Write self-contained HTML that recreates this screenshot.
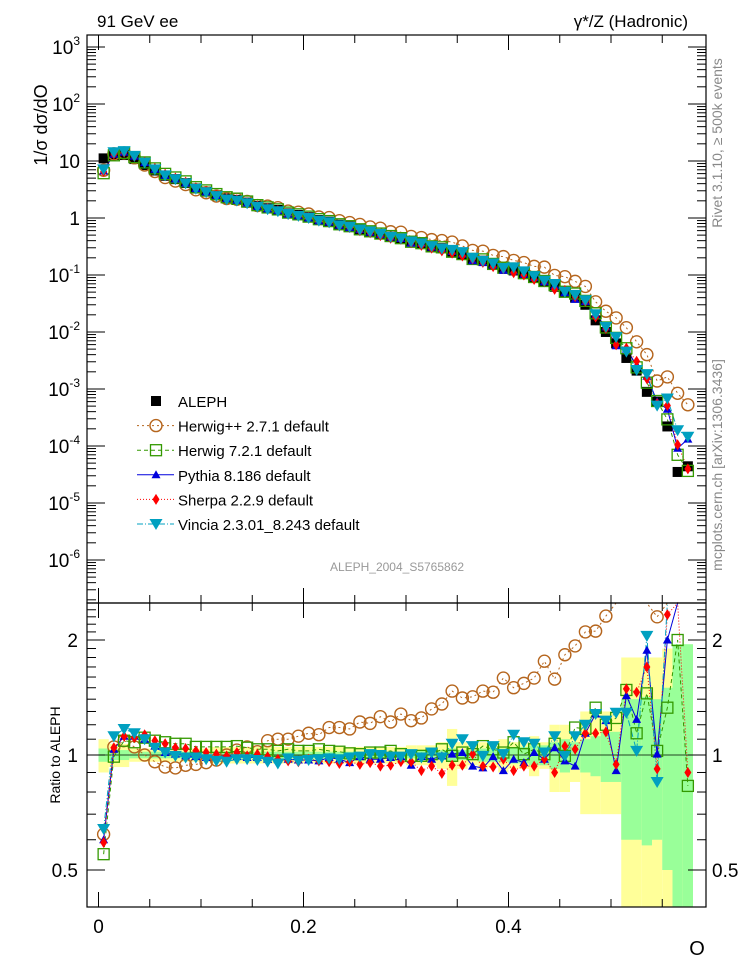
<!DOCTYPE html>
<html><head><meta charset="utf-8"><style>
html,body{margin:0;padding:0;background:#fff;}
svg{display:block;font-family:"Liberation Sans",Arial,sans-serif;}
</style></head><body>
<svg id="chart" width="746" height="972" viewBox="0 0 746 972" xmlns="http://www.w3.org/2000/svg">
<g id="bands"></g>
<g id="lines"></g>
<g id="marks"></g>
<g id="axes"></g>
<text x="97" y="27" font-size="17">91 GeV ee</text>
<text x="688" y="27" font-size="17" text-anchor="end">γ*/Z (Hadronic)</text>
<text transform="translate(47,125) rotate(-90)" font-size="18" text-anchor="middle">1/σ  dσ/dO</text>
<text transform="translate(60,755) rotate(-90)" font-size="14" text-anchor="middle">Ratio to ALEPH</text>
<text x="697" y="955" font-size="20" text-anchor="middle">O</text>
<text transform="translate(722,143) rotate(-90)" font-size="14" fill="#888" text-anchor="middle">Rivet 3.1.10, ≥ 500k events</text>
<text transform="translate(722,465) rotate(-90)" font-size="14" fill="#888" text-anchor="middle">mcplots.cern.ch [arXiv:1306.3436]</text>
<text x="397" y="571" font-size="12" fill="#999" text-anchor="middle">ALEPH_2004_S5765862</text>
<g id="legend"></g>
</svg>
<script>
const xc=[0.005,0.015,0.025,0.035,0.045,0.055,0.065,0.075,0.085,0.095,0.105,0.115,0.125,0.135,0.145,0.155,0.165,0.175,0.185,0.195,0.205,0.215,0.225,0.235,0.245,0.255,0.265,0.275,0.285,0.295,0.305,0.315,0.325,0.335,0.345,0.355,0.365,0.375,0.385,0.395,0.405,0.415,0.425,0.435,0.445,0.455,0.465,0.475,0.485,0.495,0.505,0.515,0.525,0.535,0.545,0.555,0.565,0.575];
const aleph=[11.1,12.7,12.7,10.8,8.5,6.8,5.5,4.8,4.1,3.3,2.9,2.5,2.2,2.07,1.86,1.62,1.48,1.38,1.2,1.13,1.03,0.92,0.86,0.76,0.71,0.63,0.575,0.525,0.47,0.44,0.385,0.363,0.316,0.295,0.257,0.229,0.19,0.178,0.151,0.132,0.12,0.107,0.089,0.078,0.062,0.051,0.04,0.03,0.016,0.01,0.0063,0.0035,0.0021,0.00089,0.0006,0.00022,0.000035,0.000044];
const ratioHerwigpp=[0.62,1.05,1.09,1.05,1.0,0.96,0.93,0.925,0.94,0.945,0.955,0.97,1.0,1.03,1.05,1.02,1.09,1.1,1.1,1.12,1.14,1.13,1.18,1.18,1.17,1.22,1.21,1.26,1.22,1.28,1.23,1.25,1.32,1.36,1.47,1.41,1.42,1.47,1.46,1.59,1.5,1.54,1.59,1.76,1.58,1.83,1.93,2.1,2.11,2.31,2.8,3.4,3.2,4.5,2.3,7.4,24,12];
const ratioHerwig7=[0.55,0.99,1.09,1.08,1.11,1.09,1.08,1.07,1.07,1.05,1.05,1.05,1.05,1.055,1.045,1.035,1.035,1.025,1.035,1.025,1.025,1.035,1.025,1.02,1.01,1.005,1.015,1.015,1.025,1.005,0.995,0.995,1.005,1.035,0.995,1.015,1.005,1.055,1.035,1.015,1.08,1.005,1.035,1.005,1.07,0.995,1.18,1.17,1.33,1.2,1.25,1.48,1.14,1.45,1.025,1.33,2.0,0.83];
const ratioPythia=[0.6,1.035,1.12,1.12,1.1,1.055,1.015,1.005,0.995,0.99,0.985,0.99,0.995,0.99,0.985,0.985,0.975,0.975,0.975,0.97,0.97,0.965,0.985,0.975,0.955,0.99,0.975,0.975,0.985,0.99,0.94,0.99,0.975,0.995,1.005,1.015,0.935,0.925,0.99,0.91,0.975,0.955,1.015,0.975,1.045,0.965,0.935,1.14,1.28,1.23,0.91,1.43,1.24,1.88,1.005,2.0,2.6,3.0];
const ratioSherpa=[0.59,1.045,1.12,1.11,1.13,1.09,1.07,1.045,1.04,1.025,1.015,1.005,0.995,1.015,0.995,1.005,0.99,0.975,0.965,0.96,0.975,0.965,0.96,0.95,0.96,0.945,0.955,0.935,0.94,0.96,0.96,0.91,0.935,0.895,0.94,0.94,1.005,0.935,0.93,0.975,0.91,0.935,0.935,0.975,0.9,1.055,1.035,1.14,1.14,1.15,0.945,1.49,1.46,1.7,0.92,2.33,3.0,0.9];
const ratioVincia=[0.64,1.12,1.17,1.14,1.1,1.045,1.015,0.995,0.985,0.985,0.975,0.965,0.96,0.975,0.975,0.97,0.96,0.95,0.98,0.965,0.97,0.975,0.98,0.975,0.985,0.99,1.005,1.0,0.99,0.99,1.005,0.985,1.015,0.985,1.07,1.1,1.055,0.995,1.055,1.005,1.13,1.08,1.07,1.015,1.12,0.995,1.12,1.2,1.28,1.23,1.29,1.29,1.025,2.05,0.85,3.1,5.4,3.3];
const totErr=[0.1,0.07,0.07,0.04,0.04,0.04,0.04,0.04,0.04,0.04,0.04,0.05,0.05,0.05,0.05,0.05,0.05,0.05,0.05,0.05,0.05,0.05,0.05,0.05,0.05,0.05,0.05,0.05,0.05,0.05,0.06,0.06,0.06,0.08,0.17,0.08,0.06,0.08,0.07,0.1,0.08,0.08,0.12,0.08,0.2,0.2,0.15,0.3,0.3,0.3,0.3,0.8,0.8,0.8,0.8,0.9,0.9,0.9];
const statErr=[0.04,0.03,0.03,0.02,0.02,0.02,0.02,0.02,0.02,0.02,0.02,0.02,0.02,0.02,0.02,0.02,0.02,0.02,0.02,0.02,0.02,0.02,0.02,0.02,0.02,0.02,0.02,0.02,0.02,0.02,0.02,0.025,0.025,0.03,0.04,0.03,0.03,0.04,0.04,0.04,0.05,0.05,0.06,0.06,0.08,0.1,0.08,0.1,0.12,0.15,0.15,0.4,0.4,0.42,0.4,0.5,0.95,0.95];
const yTickLabels=["10","1"];
const ratioTicks=[2,1,0.5];
const xTicks=[0,0.2,0.4];

const NS="http://www.w3.org/2000/svg";
const X0=87,X1=706,T0=35,T1=603,R1=907;
const xS=o=>98.5+o*1025;
const yT=v=>T0+(3.21-Math.log10(v))*57;
const yR=r=>755-382*Math.log10(r);
function mk(tag,attrs,parent){const e=document.createElementNS(NS,tag);for(const k in attrs)e.setAttribute(k,attrs[k]);parent.appendChild(e);return e;}
const bands=document.getElementById('bands'),lines=document.getElementById('lines'),marks=document.getElementById('marks'),axes=document.getElementById('axes'),legend=document.getElementById('legend');
const clampR=y=>Math.max(T1,Math.min(R1,y));

for(let i=0;i<xc.length;i++){
  const xl=Math.max(X0,xS(xc[i]-0.005)),xr=xS(xc[i]+0.005);
  const hi=clampR(yR(1+totErr[i])),lo=clampR(yR(Math.max(1-totErr[i],0.05)));
  const r=mk('rect',{x:xl,y:hi,width:xr-xl,height:lo-hi,fill:'#ffff99'},bands);
  
  
}
for(let i=0;i<xc.length;i++){
  const xl=Math.max(X0,xS(xc[i]-0.005)),xr=xS(xc[i]+0.005);
  const hi=clampR(yR(1+statErr[i])),lo=clampR(yR(Math.max(1-statErr[i],0.05)));
  const r=mk('rect',{x:xl,y:hi,width:xr-xl,height:lo-hi,fill:'#99ff99'},bands);
  
  
}
const one=mk('line',{x1:X0,x2:X1,y1:yR(1),y2:yR(1),stroke:'#224422','stroke-width':1},bands);



const series=[
 {name:'herwigpp',ratio:ratioHerwigpp,color:'#b5651d',dash:'2,3',mark:'circle'},
 {name:'herwig7',ratio:ratioHerwig7,color:'#339900',dash:'4,3',mark:'square'},
 {name:'pythia',ratio:ratioPythia,color:'#0000dd',dash:'',mark:'tri'},
 {name:'sherpa',ratio:ratioSherpa,color:'#ff0000',dash:'1,2',mark:'diamond'},
 {name:'vincia',ratio:ratioVincia,color:'#00a0c0',dash:'6,2,1,2',mark:'tridown'}
];
function marker(type,x,y,color,parent){
  let e;
  if(type==='circle')e=mk('circle',{cx:x,cy:y,r:6,fill:'none',stroke:color,'stroke-width':1.4},parent);
  else if(type==='square')e=mk('rect',{x:x-5.5,y:y-5.5,width:11,height:11,fill:'none',stroke:color,'stroke-width':1.3},parent);
  else if(type==='tri')e=mk('polygon',{points:`${x-4.5},${y+3.5} ${x+4.5},${y+3.5} ${x},${y-4.5}`,fill:color},parent);
  else if(type==='diamond')e=mk('polygon',{points:`${x},${y-5.5} ${x+3.5},${y} ${x},${y+5.5} ${x-3.5},${y}`,fill:color},parent);
  else if(type==='tridown')e=mk('polygon',{points:`${x-6.5},${y-5} ${x+6.5},${y-5} ${x},${y+6}`,fill:color},parent);
  else e=mk('rect',{x:x-5,y:y-5,width:10,height:10,fill:color},parent);
  return e;
}
for(let i=0;i<xc.length;i++){
  const y=yT(aleph[i]);
  if(y>T1)continue;
  const m=marker('sq',xS(xc[i]),y,'#000',marks);
  
  
}
series.forEach(s=>{
  let pt='',pr='';
  const topPts=[],ratPts=[];
  for(let i=0;i<xc.length;i++){
    const x=xS(xc[i]);
    const v=aleph[i]*s.ratio[i];
    const yt=yT(v);
    pt+=`${x},${Math.min(yt,T1)} `;
    if(yt<=T1)topPts.push([x,yt]);
    const yr=yR(s.ratio[i]);
    pr+=`${x},${clampR(yr)} `;
    if(yr>=T1&&yr<=R1)ratPts.push([x,yr]);
  }
  const l1=mk('polyline',{points:pt,fill:'none',stroke:s.color,'stroke-width':1,'stroke-dasharray':s.dash},lines);
  
  
  const l2=mk('polyline',{points:pr,fill:'none',stroke:s.color,'stroke-width':1,'stroke-dasharray':s.dash},lines);
  
  
  topPts.forEach(p=>{const m=marker(s.mark,p[0],p[1],s.color,marks);
    
    });
  ratPts.forEach(p=>{const m=marker(s.mark,p[0],p[1],s.color,marks);
    
    });
});

[[T0,T1],[T1,R1]].forEach((f,k)=>{
  const r=mk('rect',{x:X0,y:f[0],width:X1-X0,height:f[1]-f[0],fill:'none',stroke:'#000','stroke-width':1.2},axes);
  
  
});
for(let k=0;k<=11;k++){
  const o=k*0.05,x=xS(o),len=(k%4===0)?15:8;
  [[T0,1],[T1,-1],[T1,1],[R1,-1]].forEach(p=>{
    const t=mk('line',{x1:x,x2:x,y1:p[0],y2:p[0]+p[1]*len,stroke:'#000','stroke-width':1},axes);
    
    
  });
}
xTicks.forEach(v=>{
  const t=mk('text',{x:xS(v),y:933,'font-size':19,'text-anchor':'middle'},axes);
  t.textContent=String(v);
  
  
});
for(let d=-7;d<=3;d++){
  for(let m=1;m<=9;m++){
    const v=m*Math.pow(10,d),y=yT(v);
    if(y<T0||y>T1)continue;
    const len=m===1?18:9;
    [[X0,1],[X1,-1]].forEach(p=>{
      const t=mk('line',{x1:p[0],x2:p[0]+p[1]*len,y1:y,y2:y,stroke:'#000','stroke-width':1},axes);
      
      
    });
  }
}
const decs=[3,2,-1,-2,-3,-4,-5,-6];
decs.forEach(d=>{
  const y=yT(Math.pow(10,d));
  const t=mk('text',{x:80,y:y+7,'font-size':19,'text-anchor':'end'},axes);
  t.textContent='10';
  const s=mk('tspan',{dy:-9,'font-size':12},t);
  s.textContent=String(d);
  
  
});
const plainY=[[10,yTickLabels[0]],[1,yTickLabels[1]]];
plainY.forEach(p=>{
  const t=mk('text',{x:80,y:yT(p[0])+7,'font-size':19,'text-anchor':'end'},axes);
  t.textContent=p[1];
  
  
});
for(let v=0.4;v<=2.5001;v+=0.1){
  const y=yR(v);if(y<T1||y>R1)continue;
  const major=Math.abs(v-0.5)<1e-6||Math.abs(v-1)<1e-6||Math.abs(v-2)<1e-6;
  const len=major?18:9;
  [[X0,1],[X1,-1]].forEach(p=>{
    const t=mk('line',{x1:p[0],x2:p[0]+p[1]*len,y1:y,y2:y,stroke:'#000','stroke-width':1},axes);
    
    
  });
}
ratioTicks.forEach(v=>{
  [[78,'end'],[712,'start']].forEach(p=>{
    const t=mk('text',{x:p[0],y:yR(v)+7,'font-size':19,'text-anchor':p[1]},axes);
    t.textContent=String(v);
    
    
  });
});
const legItems=[['ALEPH','sq','#000',''],['Herwig++ 2.7.1 default','circle','#b5651d','2,3'],['Herwig 7.2.1 default','square','#339900','4,3'],['Pythia 8.186 default','tri','#0000dd',''],['Sherpa 2.2.9 default','diamond','#ff0000','1,2'],['Vincia 2.3.01_8.243 default','tridown','#00a0c0','6,2,1,2']];
legItems.forEach((it,k)=>{
  const y=401+k*24.6;
  const g=mk('g',{},legend);
  
  
  if(k>0){mk('line',{x1:137,x2:174,y1:y,y2:y,stroke:it[2],'stroke-width':1,'stroke-dasharray':it[3]},g);}
  marker(it[1],156,y,it[2],g);
  const t=mk('text',{x:178,y:y+6,'font-size':15},g);
  t.textContent=it[0];
});
</script>
</body></html>
